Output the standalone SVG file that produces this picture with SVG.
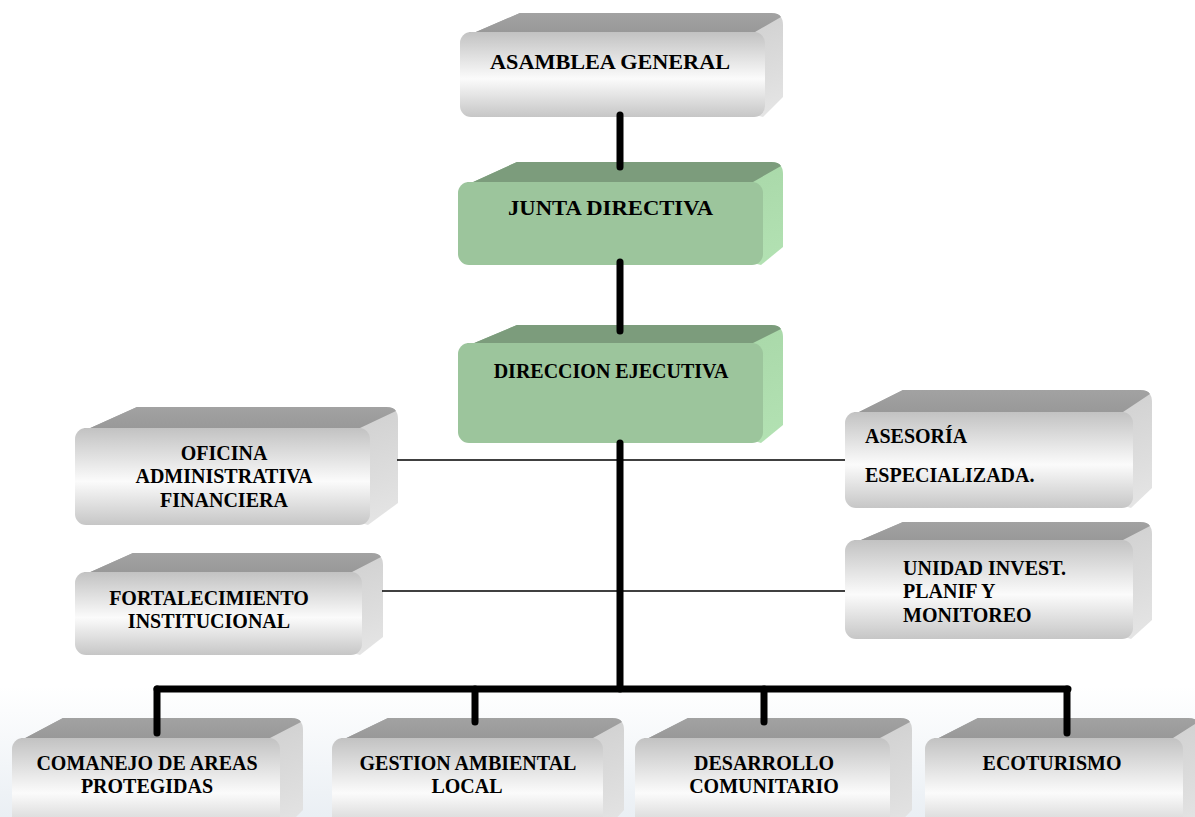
<svg xmlns="http://www.w3.org/2000/svg" width="1195" height="817" viewBox="0 0 1195 817">
<defs>
<linearGradient id="gFront" x1="0" y1="0" x2="0" y2="1">
<stop offset="0" stop-color="#c2c2c2"/>
<stop offset="0.55" stop-color="#fbfbfb"/>
<stop offset="1" stop-color="#c6c6c6"/>
</linearGradient>
<linearGradient id="gSide" x1="0" y1="0" x2="1" y2="1">
<stop offset="0" stop-color="#9a9a9a"/>
<stop offset="0.45" stop-color="#d0d0d0"/>
<stop offset="1" stop-color="#e6e6e6"/>
</linearGradient>
<linearGradient id="gTop" x1="0" y1="0" x2="0" y2="1">
<stop offset="0" stop-color="#a2a2a2"/>
<stop offset="1" stop-color="#969696"/>
</linearGradient>
<linearGradient id="grSide" x1="0" y1="0" x2="1" y2="1">
<stop offset="0" stop-color="#86a886"/>
<stop offset="0.45" stop-color="#a9d8a9"/>
<stop offset="1" stop-color="#b3e2b3"/>
</linearGradient>
<linearGradient id="gBg" x1="0" y1="0" x2="0" y2="1">
<stop offset="0" stop-color="#ffffff"/>
<stop offset="1" stop-color="#eaeff4"/>
</linearGradient>
</defs>
<style>
.t{font-family:"Liberation Serif","Times New Roman",serif;font-weight:bold;font-size:20px;fill:#000;}
.c{text-anchor:middle;}
.big{font-size:21.5px;}
.fg{fill:url(#gFront);}
.sg{fill:url(#gSide);}
.tg{fill:url(#gTop);}
.fn{fill:#9cc59c;}
.sn{fill:url(#grSide);}
.tn{fill:#7c9c7c;}
.thick{stroke:#000;stroke-width:7;stroke-linecap:round;fill:none;}
.thin{stroke:#000;stroke-width:1.5;fill:none;}
</style>
<rect x="0" y="0" width="1195" height="817" fill="#ffffff"/>
<rect x="0" y="686" width="1195" height="131" fill="url(#gBg)"/>

<g id="n-asamblea">
<path class="sg" d="M462,38 L520,13 L771,13 Q783,13 783,25 L783,97 L763,117 Z"/>
<path class="tg" d="M462,38 L520,13 L771,13 Q779,13 781,17 L755,32 L470,32 Z"/>
<rect class="fg" x="460" y="32" width="305" height="85" rx="11"/>
<text class="t big" x="490" y="69" textLength="240" lengthAdjust="spacingAndGlyphs">ASAMBLEA GENERAL</text>
</g>

<g id="n-junta">
<path class="sn" d="M460,188 L517,162 L771,162 Q783,162 783,174 L783,247 L761,265 Z"/>
<path class="tn" d="M460,188 L517,162 L771,162 Q779,162 781,166 L753,182 L468,182 Z"/>
<rect class="fn" x="458" y="182" width="305" height="83" rx="11"/>
<text class="t big" x="508" y="215" textLength="205" lengthAdjust="spacingAndGlyphs">JUNTA DIRECTIVA</text>
</g>

<g id="n-direccion">
<path class="sn" d="M460,349 L517,325 L771,325 Q783,325 783,337 L783,425 L761,443 Z"/>
<path class="tn" d="M460,349 L517,325 L771,325 Q779,325 781,329 L753,343 L468,343 Z"/>
<rect class="fn" x="458" y="343" width="305" height="100" rx="11"/>
<text class="t c" x="611" y="378">DIRECCION EJECUTIVA</text>
</g>

<g id="n-oficina">
<path class="sg" d="M77,434 L137,407 L386,407 Q398,407 398,419 L398,503 L368,525 Z"/>
<path class="tg" d="M77,434 L137,407 L386,407 Q394,407 396,411 L360,428 L85,428 Z"/>
<rect class="fg" x="75" y="428" width="295" height="97" rx="11"/>
<text class="t c" x="224" y="460">OFICINA</text>
<text class="t c" x="224" y="483">ADMINISTRATIVA</text>
<text class="t c" x="224" y="507">FINANCIERA</text>
</g>

<g id="n-fortalecimiento">
<path class="sg" d="M77,578 L133,553 L371,553 Q383,553 383,565 L383,637 L360,655 Z"/>
<path class="tg" d="M77,578 L133,553 L371,553 Q379,553 381,557 L352,572 L85,572 Z"/>
<rect class="fg" x="75" y="572" width="287" height="83" rx="11"/>
<text class="t c" x="209" y="605">FORTALECIMIENTO</text>
<text class="t c" x="209" y="628">INSTITUCIONAL</text>
</g>

<g id="n-asesoria">
<path class="sg" d="M847,418 L903,390 L1140,390 Q1152,390 1152,402 L1152,488 L1131,508 Z"/>
<path class="tg" d="M847,418 L903,390 L1140,390 Q1148,390 1150,394 L1123,412 L855,412 Z"/>
<rect class="fg" x="845" y="412" width="288" height="96" rx="11"/>
<text class="t" x="865" y="443">ASESORÍA</text>
<text class="t" x="865" y="482">ESPECIALIZADA.</text>
</g>

<g id="n-unidad">
<path class="sg" d="M847,546 L903,522 L1140,522 Q1152,522 1152,534 L1152,620 L1131,639 Z"/>
<path class="tg" d="M847,546 L903,522 L1140,522 Q1148,522 1150,526 L1123,540 L855,540 Z"/>
<rect class="fg" x="845" y="540" width="288" height="99" rx="11"/>
<text class="t" x="903" y="575">UNIDAD INVEST.</text>
<text class="t" x="903" y="598">PLANIF Y</text>
<text class="t" x="903" y="622">MONITOREO</text>
</g>

<g id="n-comanejo">
<path class="sg" d="M14,744 L63,718 L291,718 Q303,718 303,730 L303,810 L278,835 Z"/>
<path class="tg" d="M14,744 L63,718 L291,718 Q299,718 301,722 L270,738 L22,738 Z"/>
<rect class="fg" x="12" y="738" width="268" height="100" rx="11"/>
<text class="t c" x="147" y="770">COMANEJO DE AREAS</text>
<text class="t c" x="147" y="793">PROTEGIDAS</text>
</g>

<g id="n-gestion">
<path class="sg" d="M334,744 L388,718 L612,718 Q624,718 624,730 L624,810 L601,835 Z"/>
<path class="tg" d="M334,744 L388,718 L612,718 Q620,718 622,722 L593,738 L342,738 Z"/>
<rect class="fg" x="332" y="738" width="271" height="100" rx="11"/>
<text class="t c" x="468" y="770">GESTION AMBIENTAL</text>
<text class="t c" x="467" y="793">LOCAL</text>
</g>

<g id="n-desarrollo">
<path class="sg" d="M637,744 L688,718 L900,718 Q912,718 912,730 L912,810 L888,835 Z"/>
<path class="tg" d="M637,744 L688,718 L900,718 Q908,718 910,722 L880,738 L645,738 Z"/>
<rect class="fg" x="635" y="738" width="255" height="100" rx="11"/>
<text class="t c" x="764" y="770">DESARROLLO</text>
<text class="t c" x="764" y="793">COMUNITARIO</text>
</g>

<g id="n-ecoturismo">
<path class="sg" d="M927,744 L978,718 L1188,718 Q1200,718 1200,730 L1200,810 L1181,835 Z"/>
<path class="tg" d="M927,744 L978,718 L1188,718 Q1196,718 1198,722 L1173,738 L935,738 Z"/>
<rect class="fg" x="925" y="738" width="258" height="100" rx="11"/>
<text class="t c" x="1052" y="770">ECOTURISMO</text>
</g>

<g id="connectors">
<line class="thick" x1="620" y1="115" x2="620" y2="167"/>
<line class="thick" x1="620" y1="262" x2="620" y2="331"/>
<line class="thick" x1="620" y1="443" x2="620" y2="689"/>
<line class="thick" x1="157" y1="689" x2="1068" y2="689"/>
<line class="thick" x1="157" y1="689" x2="157" y2="733"/>
<line class="thick" x1="475" y1="689" x2="475" y2="722"/>
<line class="thick" x1="764" y1="689" x2="764" y2="722"/>
<line class="thick" x1="1067" y1="689" x2="1067" y2="733"/>
<line class="thin" x1="397" y1="460" x2="845" y2="460"/>
<line class="thin" x1="382" y1="591" x2="845" y2="591"/>
</g>
</svg>
